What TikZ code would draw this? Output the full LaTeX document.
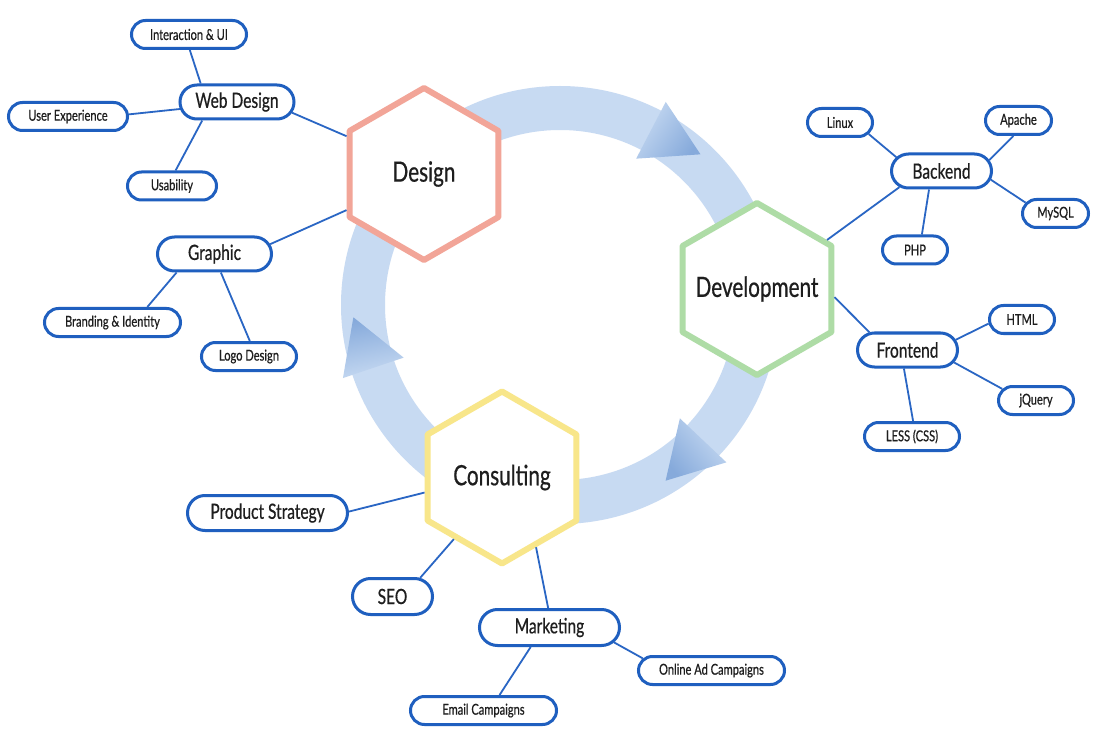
\documentclass[tikz,border=0pt]{standalone}
\usepackage{fontspec}
\setmainfont[FakeStretch=0.74,FakeBold=0.6]{Lato}
\usetikzlibrary{shapes.geometric,shapes.misc}
\definecolor{ringc}{HTML}{C7DAF2}
\definecolor{arrowdark}{HTML}{86AADB}
\definecolor{nodeblue}{HTML}{1F5FBF}
\definecolor{linkblue}{HTML}{2A66C4}
\definecolor{designc}{HTML}{F2A598}
\definecolor{devc}{HTML}{AEDCA6}
\definecolor{consc}{HTML}{F8E68A}
\definecolor{txt}{HTML}{1E1E1E}
\newcommand{\hexlabel}[1]{\makebox[0pt][c]{#1}}
\begin{document}
\begin{tikzpicture}[x=1pt,y=-1pt,
 pill/.style={rounded rectangle, draw=nodeblue, line width=3pt, fill=white, inner sep=0pt, text=txt},
 big/.style={pill, font=\fontsize{21}{21}\selectfont, minimum height=34},
 small/.style={pill, font=\fontsize{15}{15}\selectfont, minimum height=28},
 hexa/.style={regular polygon, regular polygon sides=6, shape border rotate=30, minimum size=172, inner sep=0pt, line width=6pt, fill=white, text=txt, font=\fontsize{28}{28}\selectfont, line join=round},
 link/.style={draw=linkblue, line width=1.8pt},
 ahead/.style={top color=ringc, bottom color=arrowdark}
]
\useasboundingbox (0,0) rectangle (1120,738);
\fill[white] (0,0) rectangle (1120,738);

% ring with arrowheads
\coordinate (rc) at (560,305);
\draw[ringc, line width=44pt] (rc) circle[radius=197pt];
\shade[ahead, shading angle=55] ([shift={(62.5:165pt)}]rc) -- ([shift={(62.5:229pt)}]rc) -- ([shift={(47:206pt)}]rc) -- cycle;
\shade[ahead, shading angle=-51] ([shift={(-43.4:165pt)}]rc) -- ([shift={(-43.4:229pt)}]rc) -- ([shift={(-59:205pt)}]rc) -- cycle;
\shade[ahead, shading angle=191] ([shift={(198.6:165pt)}]rc) -- ([shift={(198.6:229pt)}]rc) -- ([shift={(183.4:207pt)}]rc) -- cycle;

% hexagons
\node[hexa, draw=designc] (design) at (424,174) {\hexlabel{Design}};
\node[hexa, draw=devc] (dev) at (757,289) {\hexlabel{Development}};
\node[hexa, draw=consc] (cons) at (502,477.5) {\hexlabel{Consulting}};

% Design branch
\node[big, minimum width=114] (webdesign) at (237,102) {Web Design};
\node[small, minimum width=115] (interaction) at (189,34.5) {Interaction \& UI};
\node[small, minimum width=119] (ux) at (68,116.5) {User Experience};
\node[small, minimum width=89] (usability) at (172,186) {Usability};
\node[big, minimum width=114] (graphic) at (214.5,254) {Graphic};
\node[small, minimum width=136] (branding) at (112.5,322.5) {Branding \& Identity};
\node[small, minimum width=95] (logo) at (249,356.5) {Logo Design};

% Development branch
\node[big, minimum width=100] (backend) at (941.5,171) {Backend};
\node[small, minimum width=65] (linux) at (840,122.5) {Linux};
\node[small, minimum width=66] (apache) at (1018.5,120.5) {Apache};
\node[small, minimum width=66] (mysql) at (1055.5,213.5) {MySQL};
\node[small, minimum width=65] (php) at (915,250) {PHP};
\node[big, minimum width=100] (frontend) at (907.5,350) {Frontend};
\node[small, minimum width=65] (html) at (1022,319.5) {HTML};
\node[small, minimum width=75] (jquery) at (1036,400.5) {jQuery};
\node[small, minimum width=95] (less) at (912,436.5) {LESS (CSS)};

% Consulting branch
\node[big, minimum width=160, minimum height=35] (strategy) at (267.5,513) {Product Strategy};
\node[big, minimum width=80, minimum height=36] (seo) at (392.5,596.5) {SEO};
\node[big, minimum width=140, minimum height=36] (marketing) at (549.5,627.5) {Marketing};
\node[small, minimum width=146] (online) at (711.5,670.5) {Online Ad Campaigns};
\node[small, minimum width=146] (email) at (483.5,710.5) {Email Campaigns};

% connectors
\draw[link] (interaction.-87) -- (webdesign.153);
\draw[link] (ux.2) -- (webdesign.187);
\draw[link] (usability.77) -- (webdesign.208);
\draw[link] (webdesign.-11) -- (design.154);
\draw[link] (graphic.10) -- (design.205);
\draw[link] (branding.24) -- (graphic.206);
\draw[link] (logo.87) -- (graphic.-71);

\draw[link] (linux.-22) -- (backend.163);
\draw[link] (apache.-108) -- (backend.13);
\draw[link] (mysql.160) -- (backend.-10);
\draw[link] (php.66) -- (backend.236);
\draw[link] (backend.201) -- (dev.35);
\draw[link] (dev.-6) -- (frontend.155);
\draw[link] (html.187) -- (frontend.12);
\draw[link] (jquery.161) -- (frontend.-15);
\draw[link] (less.86) -- (frontend.259);

\draw[link] (strategy.1) -- (cons.191);
\draw[link] (seo.34) -- (cons.232);
\draw[link] (marketing.94) -- (cons.-64);
\draw[link] (marketing.-13) -- (online.170);
\draw[link] (marketing.226) -- (email.44);
\end{tikzpicture}
\end{document}
